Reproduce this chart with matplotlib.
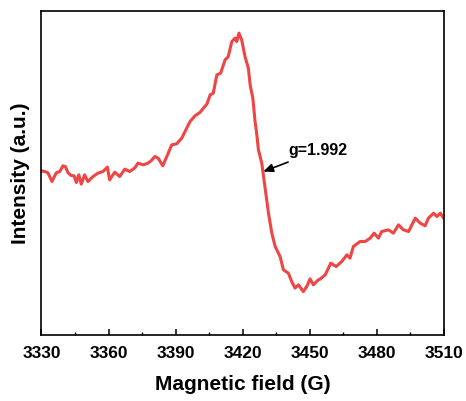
import matplotlib.pyplot as plt
from matplotlib.ticker import MultipleLocator

# EPR spectrum, values (field in G, intensity in a.u.)
field = [3330.0, 3331.4, 3332.9, 3334.7, 3336.6, 3338.2, 3339.6, 3340.7, 3341.9, 3343.3,
         3344.6, 3345.6, 3346.7, 3347.8, 3349.3, 3350.8, 3353.1, 3355.3, 3357.5, 3359.5,
         3360.5, 3362.8, 3365.0, 3367.3, 3369.5, 3371.7, 3373.2, 3375.5, 3377.7, 3379.2,
         3380.7, 3382.2, 3384.3, 3386.1, 3388.3, 3390.5, 3392.8, 3395.0, 3396.5, 3398.7,
         3401.0, 3402.5, 3404.1, 3405.5, 3406.9, 3408.5, 3410.2, 3412.2, 3413.6, 3415.2,
         3416.6, 3417.4, 3418.4, 3419.6, 3421.1, 3422.6, 3423.4, 3424.6, 3425.6, 3426.4,
         3427.1, 3428.6, 3430.1, 3431.6, 3433.1, 3434.6, 3436.8, 3438.3, 3440.5, 3442.0,
         3443.5, 3445.0, 3447.2, 3448.9, 3450.2, 3451.7, 3453.9, 3454.7, 3457.0, 3459.5,
         3461.9, 3464.4, 3466.7, 3468.1, 3469.6, 3472.6, 3474.9, 3477.1, 3478.9, 3480.8,
         3482.3, 3485.3, 3487.5, 3489.8, 3492.0, 3494.3, 3497.3, 3499.5, 3501.7, 3503.2,
         3505.5, 3507.0, 3508.5, 3510.0]
intensity = [0.0, -0.07, -0.2, -1.07, -0.2, -0.07, 0.5, 0.43, -0.2, -0.47,
             -0.5, -1.17, -0.4, -1.33, -0.4, -1.07, -0.57, -0.23, -0.07, 0.37,
             -0.9, -0.13, -0.57, 0.17, -0.07, 0.27, 0.77, 0.6, 0.77, 1.03,
             1.43, 1.27, 0.5, 1.43, 2.6, 2.7, 3.27, 4.27, 4.93, 5.5,
             5.85, 6.27, 6.7, 7.6, 7.77, 9.6, 9.77, 11.1, 11.43, 12.93,
             13.27, 12.93, 13.77, 13.1, 11.43, 10.27, 8.6, 7.27, 4.93, 3.6,
             2.1, 0.77, -1.73, -4.23, -6.23, -7.57, -8.57, -9.9, -10.23, -11.07,
             -11.73, -11.4, -12.07, -11.5, -10.8, -11.4, -10.9, -10.83, -10.4, -9.23,
             -9.57, -9.07, -8.4, -8.73, -7.57, -7.07, -7.07, -6.73, -6.23, -6.73,
             -6.07, -5.9, -6.23, -5.4, -5.9, -6.07, -4.73, -5.23, -5.5, -4.73,
             -4.23, -4.57, -4.23, -4.73]

plt.rcParams['font.family'] = ['Liberation Sans', 'DejaVu Sans']
plt.rcParams['font.weight'] = 'bold'

fig = plt.figure(figsize=(4.66, 4.01), dpi=100)
ax = fig.add_axes([0.089, 0.165, 0.863, 0.808])

ax.plot(field, intensity, color='#f04545', lw=2.2)

ax.annotate('g=1.992', xy=(3429.3, -0.07), xytext=(3440.4, 2.0),
            fontsize=11.5, fontweight='bold', ha='left', va='center',
            arrowprops=dict(arrowstyle='-|>,head_length=0.5,head_width=0.22',
                            color='black', lw=1.2, shrinkA=2, shrinkB=0))

ax.set_xlim(3330, 3510)
ax.set_ylim(-16.4, 16.0)
ax.xaxis.set_major_locator(MultipleLocator(30))
ax.xaxis.set_minor_locator(MultipleLocator(15))
ax.tick_params(axis='x', which='major', direction='in', length=4, width=1.1,
               labelsize=12.5, pad=8)
ax.tick_params(axis='x', which='minor', direction='in', length=2.5, width=1.0)
ax.set_yticks([])
for lbl in ax.get_xticklabels():
    lbl.set_fontweight('bold')
for sp in ax.spines.values():
    sp.set_linewidth(1.2)

ax.set_xlabel('Magnetic field (G)', fontsize=15, fontweight='bold', labelpad=10)
ax.set_ylabel('Intensity (a.u.)', fontsize=15, fontweight='bold', labelpad=8)

fig.savefig('out.png', dpi=100)
